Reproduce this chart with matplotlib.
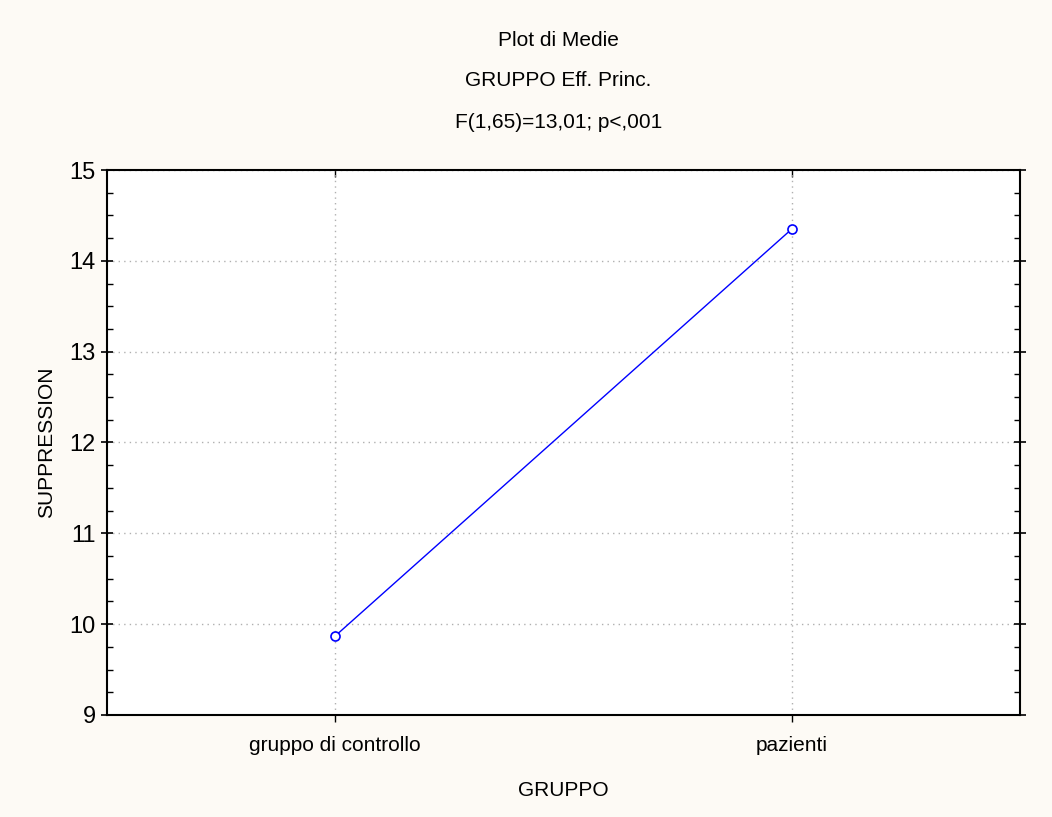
import matplotlib
matplotlib.use('Agg')
import matplotlib.pyplot as plt
from matplotlib import font_manager
from matplotlib.ticker import MultipleLocator

groups = ['gruppo di controllo', 'pazienti']
means = [9.87, 14.35]
yticks = [9, 10, 11, 12, 13, 14, 15]
title_lines = ['Plot di Medie', 'GRUPPO Eff. Princ.', 'F(1,65)=13,01; p<,001']

names = {f.name for f in font_manager.fontManager.ttflist}
fam = 'Liberation Sans Narrow' if 'Liberation Sans Narrow' in names else 'Liberation Sans'
plt.rcParams['font.family'] = [fam, 'DejaVu Sans']

bg = '#fdfaf5'
fig = plt.figure(figsize=(10.52, 8.17), dpi=100, facecolor=bg)
ax = fig.add_axes([0.1017, 0.1249, 0.8679, 0.667])
ax.set_facecolor('white')

x = list(range(len(groups)))
ax.plot(x, means, color='#0000ff', lw=1.0, marker='o', ms=6.5,
        mfc='white', mec='#0000ff', mew=1.2, zorder=3)

ax.set_xlim(-0.5, 1.5)
ax.set_ylim(9, 15)
ax.set_xticks(x)
ax.set_xticklabels(groups, fontsize=15)
ax.set_yticks(yticks)
ax.set_yticklabels([str(t) for t in yticks], fontsize=17)
ax.yaxis.set_minor_locator(MultipleLocator(0.25))
ax.tick_params(axis='y', which='major', direction='inout', length=8, width=1.2,
               right=True, pad=4)
ax.tick_params(axis='y', which='minor', direction='in', length=4, width=1.0, right=True)
ax.tick_params(axis='x', which='major', direction='out', length=5, width=1.0, pad=10)

# inward ticks along the top edge
top = ax.secondary_xaxis('top')
top.set_xticks(x)
top.set_xticklabels([])
top.tick_params(direction='in', length=5, width=1.0)
top.spines['top'].set_visible(False)

ax.grid(True, which='major', color='#b0b0b0', linestyle=(0, (1, 3)), lw=1.0)

for s in ax.spines.values():
    s.set_linewidth(1.5)
    s.set_color('black')

ax.set_ylabel('SUPPRESSION', fontsize=15, labelpad=10)
ax.set_xlabel('GRUPPO', fontsize=15, labelpad=19)

for i, t in enumerate(title_lines):
    fig.text(0.531, 1 - (40 + 41 * i) / 817, t, ha='center', va='center', fontsize=15)

fig.savefig('out.png', dpi=100, facecolor=bg)
